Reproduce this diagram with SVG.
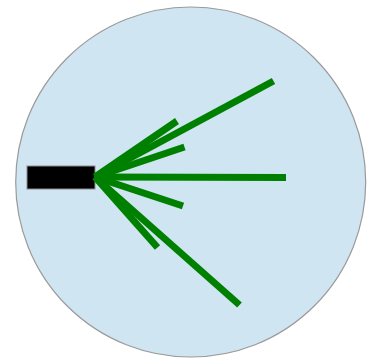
<svg xmlns="http://www.w3.org/2000/svg" width="369" height="359" viewBox="0 0 369 359">
<style>
.ray{stroke:#008000;stroke-width:7;stroke-linecap:butt;fill:none}
</style>
<rect width="369" height="359" fill="#ffffff"/>
<g id="disc"><circle cx="190.7" cy="182" r="175" fill="#d0e5f2" stroke="#9a9a9a" stroke-width="1.2"/></g>
<g id="block"><rect x="27" y="166" width="68" height="23" fill="#000" stroke="#8a8a90" stroke-width="1"/></g>
<g id="connectors">
<line class="ray" x1="95" y1="177" x2="273.5" y2="81"/>
<line class="ray" x1="95" y1="177" x2="177" y2="121"/>
<line class="ray" x1="95" y1="177" x2="184.5" y2="147"/>
<line class="ray" x1="95" y1="177" x2="286" y2="177.5"/>
<line class="ray" x1="95" y1="177" x2="183" y2="206"/>
<line class="ray" x1="95" y1="177" x2="157.5" y2="247.5"/>
<line class="ray" x1="95" y1="177" x2="239.5" y2="305"/>
</g>
</svg>
